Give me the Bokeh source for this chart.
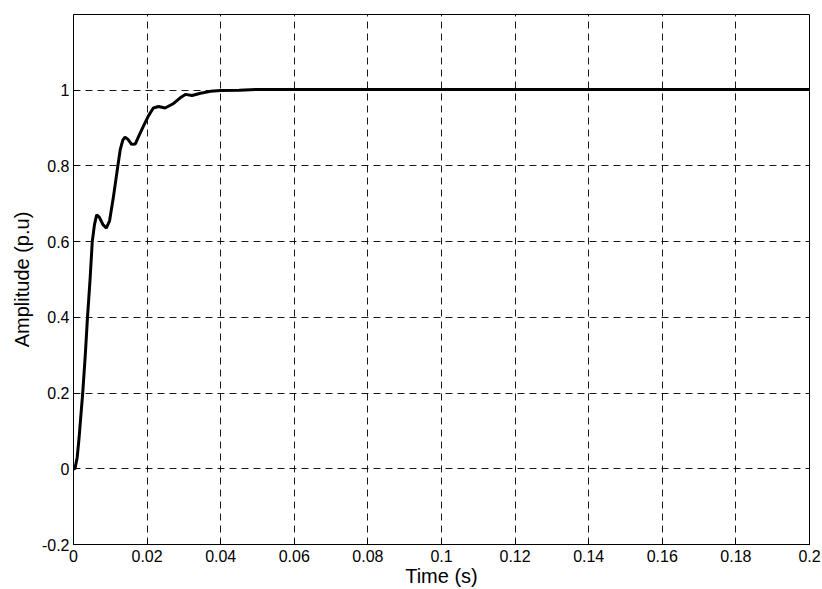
from bokeh.plotting import figure
from bokeh.models import Range1d, FixedTicker, PrintfTickFormatter
from bokeh.embed import file_html
from bokeh.resources import INLINE

# Step response data
time_s = [0.0, 0.0004, 0.0010, 0.0015, 0.0020, 0.0025, 0.0032, 0.0038, 0.0045, 0.0051,
          0.0057, 0.0063, 0.0070, 0.0080, 0.0089, 0.0098, 0.0108, 0.0119, 0.0127,
          0.0134, 0.0140, 0.0148, 0.0158, 0.0168, 0.0178, 0.0190, 0.0204, 0.0217,
          0.0231, 0.0249, 0.0272, 0.0290, 0.0304, 0.0322, 0.0345, 0.0372, 0.0400,
          0.0450, 0.0500, 0.0600, 0.1000, 0.1500, 0.2000]
amplitude = [0.0, 0.0, 0.03, 0.08, 0.14, 0.20, 0.30, 0.40, 0.50, 0.60,
             0.645, 0.671, 0.665, 0.645, 0.636, 0.655, 0.715, 0.79, 0.843,
             0.868, 0.876, 0.870, 0.857, 0.858, 0.880, 0.905, 0.933, 0.953,
             0.957, 0.953, 0.965, 0.980, 0.989, 0.986, 0.992, 0.997, 0.999,
             1.0, 1.002, 1.002, 1.002, 1.002, 1.002]

x_ticks = [0.0, 0.02, 0.04, 0.06, 0.08, 0.1, 0.12, 0.14, 0.16, 0.18, 0.2]
y_ticks = [-0.2, 0.0, 0.2, 0.4, 0.6, 0.8, 1.0]

FONT = "Liberation Sans"

p = figure(width=822, height=589,
           x_range=Range1d(0, 0.2), y_range=Range1d(-0.2, 1.2),
           output_backend="svg", toolbar_location=None,
           min_border_left=73, min_border_right=13,
           min_border_top=14, min_border_bottom=45)

p.background_fill_color = "white"
p.border_fill_color = "white"
p.outline_line_color = "black"
p.outline_line_width = 1

for ax in (p.xaxis[0], p.yaxis[0]):
    ax.axis_line_color = "black"
    ax.major_tick_line_color = "black"
    ax.major_tick_in = 5
    ax.major_tick_out = 0
    ax.minor_tick_line_color = None
    ax.major_label_text_font = FONT
    ax.major_label_text_font_size = "16px"
    ax.major_label_text_color = "black"
    ax.axis_label_text_font = FONT
    ax.axis_label_text_font_size = "20px"
    ax.axis_label_text_font_style = "normal"
    ax.axis_label_text_color = "black"
    ax.formatter = PrintfTickFormatter(format="%g")

p.xaxis.ticker = FixedTicker(ticks=x_ticks)
p.yaxis.ticker = FixedTicker(ticks=y_ticks)
p.xaxis.major_label_standoff = 5
p.yaxis.major_label_standoff = 4

p.yaxis.axis_label = "Amplitude (p.u)"
p.yaxis.axis_label_standoff = 6
p.xaxis.axis_label = "Time (s)"
p.xaxis.axis_label_standoff = 0

for g in (p.xgrid[0], p.ygrid[0]):
    g.grid_line_color = "black"
    g.grid_line_dash = "7 5"
    g.grid_line_width = 1
    g.grid_line_alpha = 0.9

p.xgrid.ticker = FixedTicker(ticks=x_ticks)
p.ygrid.ticker = FixedTicker(ticks=y_ticks)

p.line(time_s, amplitude, line_color="black", line_width=3)

open("out.html", "w").write(file_html(p, INLINE))
